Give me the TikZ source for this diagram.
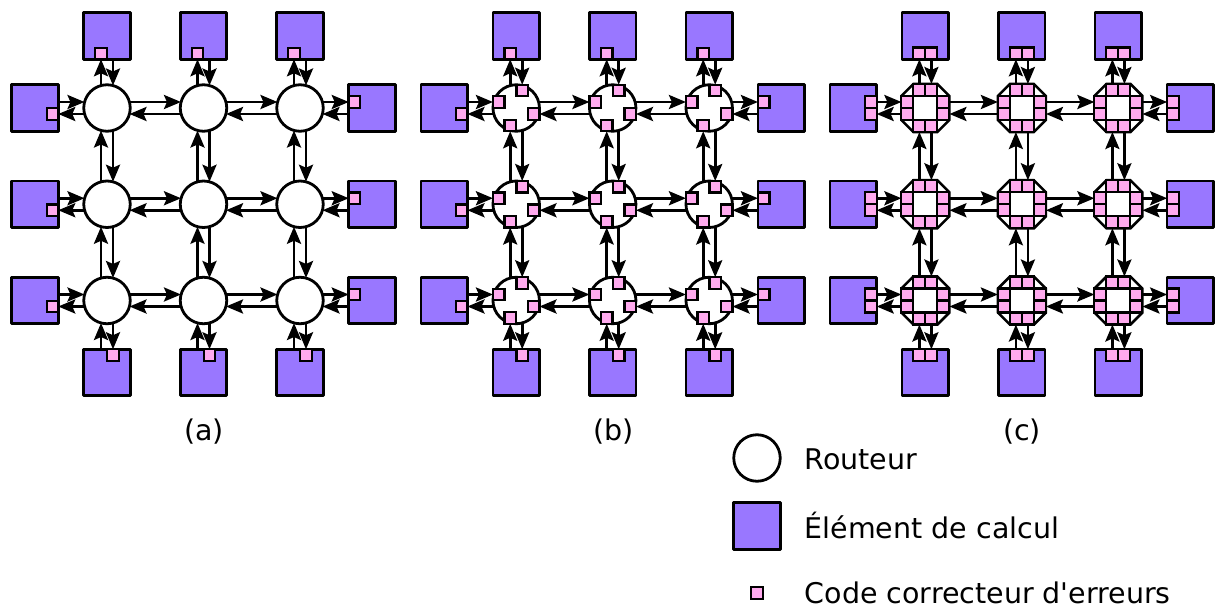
\documentclass[tikz,border=0pt]{standalone}
\usepackage{fontspec}
\setmainfont{DejaVu Sans}
\usetikzlibrary{arrows.meta,calc}
\definecolor{pecol}{RGB}{153,119,255}
\definecolor{ecccol}{RGB}{255,170,238}
\tikzset{
  router/.style={circle,draw,line width=2.8pt,fill=white,minimum size=46.5pt,inner sep=0pt,outer sep=0pt},
  octcore/.style={rectangle,draw=none,minimum size=48pt,inner sep=0pt,outer sep=0pt},
  octline/.style={draw,line width=2.6pt,fill=white,line join=miter},
  pebox/.style={rectangle,draw,line width=2.6pt,line join=round,fill=pecol,minimum size=46.5pt,inner sep=0pt,outer sep=0pt},
  ecc/.style={rectangle,draw,line width=2.1pt,fill=ecccol,minimum size=11.5pt,inner sep=0pt,outer sep=0pt},
  link/.style={line width=2.8pt,-{Stealth[length=17pt,width=14pt,inset=3pt]}},
  lbl/.style={inner sep=0pt,font=\fontsize{28.5}{34}\selectfont}
}
\newcommand{\straightquote}{\XeTeXglyph\numexpr\XeTeXcharglyph"27\relax}
\begin{document}
\begin{tikzpicture}[x=1pt,y=-1pt]
\useasboundingbox (0,0) rectangle (1216,610);
\foreach \p in {0,1,2}{
  \pgfmathsetmacro{\ox}{409.2*\p}
  \ifcase\p \def\dIn{22.5}\def\dOut{22.5}\or \def\dIn{23.25}\def\dOut{22.5}\or \def\dIn{24}\def\dOut{24}\fi
  % routers
  \foreach \i in {0,1,2}{
    \foreach \j in {0,1,2}{
      \pgfmathsetmacro{\X}{\ox+107+96.5*\i}
      \pgfmathsetmacro{\Y}{108+96.25*\j}
      \ifcase\p
        \node[router] (r\p-\i-\j) at (\X,\Y) {};
      \or
        \node[router] (r\p-\i-\j) at (\X,\Y) {};
        \node[ecc] at ($(r\p-\i-\j)+(6,-17.5)$) {};
        \node[ecc] at ($(r\p-\i-\j)+(-17.5,-6)$) {};
        \node[ecc] at ($(r\p-\i-\j)+(17.5,6)$) {};
        \node[ecc] at ($(r\p-\i-\j)+(-6,17.5)$) {};
      \or
        \node[octcore] (r\p-\i-\j) at (\X,\Y) {};
        \path[octline] ($(r\p-\i-\j)+(-12,-24)$) -- ($(r\p-\i-\j)+(12,-24)$) -- ($(r\p-\i-\j)+(24,-12)$) -- ($(r\p-\i-\j)+(24,12)$) -- ($(r\p-\i-\j)+(12,24)$) -- ($(r\p-\i-\j)+(-12,24)$) -- ($(r\p-\i-\j)+(-24,12)$) -- ($(r\p-\i-\j)+(-24,-12)$) -- cycle;
        \foreach \a/\b in {-6/-18,6/-18,-6/18,6/18,-18/-6,-18/6,18/-6,18/6}{
          \node[ecc,minimum size=12pt] at ($(r\p-\i-\j)+(\a,\b)$) {};
        }
      \fi
    }
  }
  % processing elements
  \foreach \i in {0,1,2}{
    \pgfmathsetmacro{\X}{\ox+107+96.5*\i}
    \node[pebox] (t\p-\i) at (\X,36) {};
    \node[pebox] (b\p-\i) at (\X,372.5) {};
    \pgfmathsetmacro{\Y}{108+96.25*\i}
    \node[pebox] (l\p-\i) at (\ox+35,\Y) {};
    \node[pebox] (e\p-\i) at (\ox+372,\Y) {};
    \ifnum\p<2
      \node[ecc] at ($(t\p-\i)+(-6,17.5)$) {};
      \node[ecc] at ($(b\p-\i)+(6,-17.5)$) {};
      \node[ecc] at ($(l\p-\i)+(17.5,6)$) {};
      \node[ecc] at ($(e\p-\i)+(-17.5,-6)$) {};
    \else
      \foreach \s in {-6,6}{
        \node[ecc,minimum size=12pt] at ($(t\p-\i)+(\s,17.5)$) {};
        \node[ecc,minimum size=12pt] at ($(b\p-\i)+(\s,-17.5)$) {};
        \node[ecc,minimum size=12pt] at ($(l\p-\i)+(17.5,\s)$) {};
        \node[ecc,minimum size=12pt] at ($(e\p-\i)+(-17.5,\s)$) {};
      }
    \fi
  }
  % router to router links
  \foreach \i [evaluate=\i as \ii using int(\i+1)] in {0,1}{
    \foreach \j in {0,1,2}{
      \draw[link] ($(r\p-\i-\j)+(\dOut,-6)$) -- ($(r\p-\ii-\j)+(-\dIn,-6)$);
      \draw[link] ($(r\p-\ii-\j)+(-\dOut,6)$) -- ($(r\p-\i-\j)+(\dIn,6)$);
      \draw[link] ($(r\p-\j-\ii)+(-6,-\dOut)$) -- ($(r\p-\j-\i)+(-6,\dIn)$);
      \draw[link] ($(r\p-\j-\i)+(6,\dOut)$) -- ($(r\p-\j-\ii)+(6,-\dIn)$);
    }
  }
  % router to PE links
  \foreach \i in {0,1,2}{
    \draw[link] ($(r\p-\i-0)+(-6,-\dOut)$) -- ($(t\p-\i.south)+(-6,0)$);
    \draw[link] ($(t\p-\i.south)+(6,0)$) -- ($(r\p-\i-0)+(6,-\dIn)$);
    \draw[link] ($(b\p-\i.north)+(-6,0)$) -- ($(r\p-\i-2)+(-6,\dIn)$);
    \draw[link] ($(r\p-\i-2)+(6,\dOut)$) -- ($(b\p-\i.north)+(6,0)$);
    \draw[link] ($(l\p-\i.east)+(0,-6)$) -- ($(r\p-0-\i)+(-\dIn,-6)$);
    \draw[link] ($(r\p-0-\i)+(-\dOut,6)$) -- ($(l\p-\i.east)+(0,6)$);
    \draw[link] ($(r\p-2-\i)+(\dOut,-6)$) -- ($(e\p-\i.west)+(0,-6)$);
    \draw[link] ($(e\p-\i.west)+(0,6)$) -- ($(r\p-2-\i)+(\dIn,6)$);
  }
}
% panel labels
\node[lbl] (la) at (204,432) {(a)};
\node[lbl] (lb) at (613.5,432) {(b)};
\node[lbl] (lc) at (1022,432) {(c)};
% legend
\node[router] (kr) at (757,458) {};
\node[pebox] (kp) at (757,526) {};
\node[ecc] (ke) at (757,593) {};
\node[lbl,anchor=base west] (tr) at (804.5,469) {Routeur};
\node[lbl,anchor=base west] (tp) at (804.5,538) {Élément de calcul};
\node[lbl,anchor=base west] (te) at (804.5,603) {Code correcteur d\straightquote erreurs};
\end{tikzpicture}
\end{document}
